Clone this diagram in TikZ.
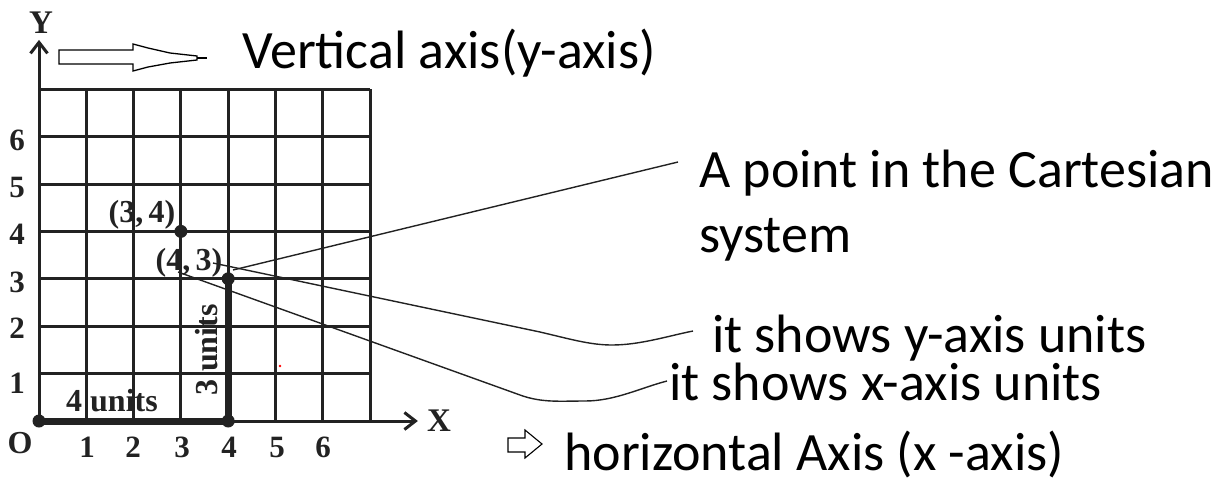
\documentclass[tikz,border=0pt]{standalone}
\usepackage{fontspec}
\usetikzlibrary{arrows.meta}
\newfontfamily\calfont{Carlito}
\newfontfamily\timesfont{Liberation Serif}
\definecolor{ink}{HTML}{222222}
\begin{document}
\begin{tikzpicture}[x=1pt,y=-1pt,
  gridline/.style={line width=3pt, draw=ink},
  thickline/.style={line width=7pt, draw=ink, line cap=round},
  lead/.style={line width=1.4pt, draw=ink},
  big/.style={font=\calfont\fontsize{54}{62}\selectfont, inner sep=0pt, anchor=base west},
  lab/.style={font=\timesfont\bfseries\fontsize{31}{34}\selectfont, inner sep=0pt, text=ink},
  dot/.style={circle, fill=ink, inner sep=0pt, minimum size=13pt},
  hollow/.style={draw=black, line width=1.3pt, fill=white, line join=miter},
]
\useasboundingbox (0,0) rectangle (1218,485);
% grid and axes
\begin{scope}[shift={(39,421)}, x=47.3pt, y=47.4pt]
  \foreach \i in {0,...,7} {
    \draw[gridline] (\i,0) -- (\i,7);
    \draw[gridline] (0,\i) -- (7,\i);
  }
  \coordinate (O) at (0,0);
  \coordinate (Ytip) at (0,8.04);
  \coordinate (Xtip) at (8.01,0);
  \draw[gridline, -{Straight Barb[length=11pt,width=17pt]}] (O) -- (Ytip);
  \draw[gridline, -{Straight Barb[length=11pt,width=17pt]}] (O) -- (Xtip);
  \node[dot] (p0) at (0,0) {};
  \node[dot] (p40) at (4,0) {};
  \node[dot] (p43) at (4,3) {};
  \node[dot] (p34) at (3,4) {};
  \draw[thickline] (p0.center) -- (p40.center) -- (p43.center);
\end{scope}
% axis labels
\node[lab, font=\timesfont\bfseries\fontsize{33}{36}\selectfont] (ylab) at (41,23) {Y};
\node[lab, font=\timesfont\bfseries\fontsize{33}{36}\selectfont] (xlab) at (439,421) {X};
\node[lab, font=\timesfont\bfseries\fontsize{32}{36}\selectfont] (olab) at (20,443) {O};
\foreach \n/\xx in {1/87,2/133,3/182,4/229,5/277,6/323}
  \node[lab] (xn\n) at (\xx,447) {\n};
\foreach \n/\yy in {1/383,2/328,3/282,4/234,5/187,6/140}
  \node[lab] (yn\n) at (17,\yy) {\n};
\node[lab, font=\timesfont\bfseries\fontsize{32}{36}\selectfont] (l34) at (142,215) {(3,\,4)};
\node[lab, font=\timesfont\bfseries\fontsize{32}{36}\selectfont] (l43) at (189,263) {(4,\,3)};
\node[lab, font=\timesfont\bfseries\fontsize{32}{36}\selectfont] (u4) at (112,401) {4 units};
\node[lab, font=\timesfont\bfseries\fontsize{32}{36}\selectfont, rotate=90] (u3) at (207,350) {3 units};
% stray red dot
\fill[red] (280,366) circle (1.3);
% top hollow arrow
\draw[hollow] (59,50) -- (133,50) -- (133,44) -- (148,48) -- (170,53) -- (197,56) -- (197,60) -- (170,63) -- (148,67) -- (133,71) -- (133,64) -- (59,64) -- cycle;
\draw[line width=2.5pt] (197,58) -- (207,58);
% small hollow arrow
\draw[hollow, line width=1.1pt] (508,438) -- (525,438) -- (525,430) -- (542,444) -- (525,458) -- (525,452) -- (508,452) -- cycle;
% texts
\node[big] (vt) at (242,68) {Vertical axis(y-axis)};
\node[big] (pt1) at (699,187) {A point in the Cartesian};
\node[big] (pt2) at (699,252) {system};
\node[big] (ys) at (712,352) {it shows y-axis units};
\node[big] (xs) at (669,400) {it shows x-axis units};
\node[big] (ht) at (564,470) {horizontal Axis (x -axis)};
% leader lines
\coordinate (s1) at (233,270);
\coordinate (e1) at (678,162);
\coordinate (s2) at (213,263);
\coordinate (e2) at (693,331);
\coordinate (s3) at (178,272);
\coordinate (e3) at (667,381);
\draw[lead] (s1) -- (e1);
\draw[lead] (s2) -- (540,332) .. controls (570,339) and (590,345) .. (612,345) .. controls (640,345) and (668,336) .. (e2);
\draw[lead] (s3) -- (520,395) .. controls (542,403) and (560,401) .. (585,401) .. controls (615,401) and (640,388) .. (e3);
\end{tikzpicture}
\end{document}
